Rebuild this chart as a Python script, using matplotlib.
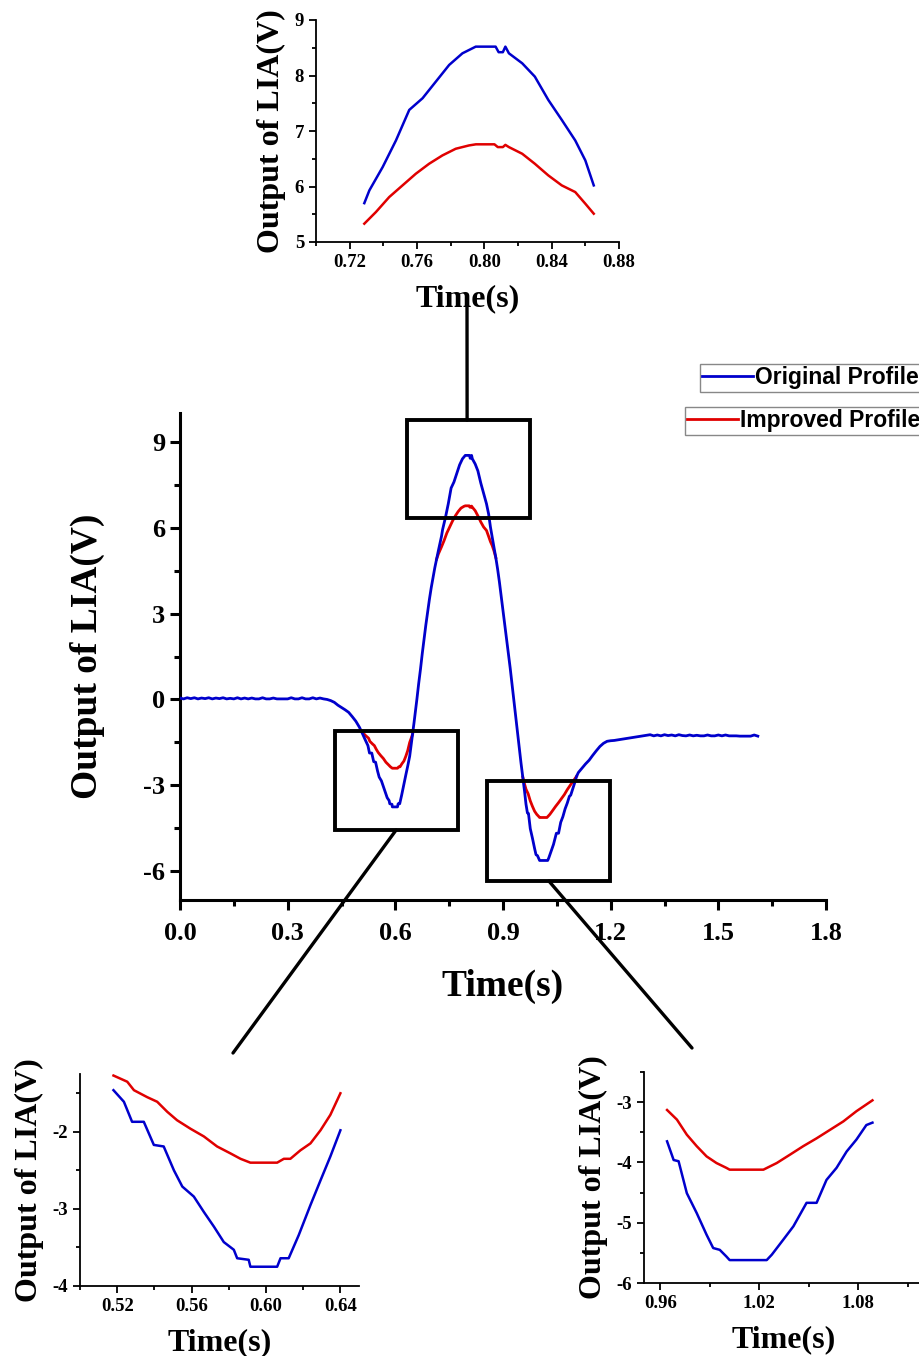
import numpy as np
import matplotlib
matplotlib.use("Agg")
import matplotlib.pyplot as plt
from matplotlib.patches import Rectangle, ConnectionPatch
from matplotlib.ticker import MultipleLocator
from matplotlib.font_manager import FontProperties

# ---------------- data ----------------
orig_t = [0.00, 0.01, 0.02, 0.03, 0.04, 0.05, 0.06, 0.07, 0.08, 0.09, 0.10, 0.11, 0.12, 0.13,
          0.14, 0.15, 0.16, 0.17, 0.18, 0.19, 0.20, 0.21, 0.22, 0.23, 0.24, 0.25, 0.26, 0.27,
          0.28, 0.29, 0.30, 0.31, 0.32, 0.33, 0.34, 0.35, 0.36, 0.37, 0.38, 0.39, 0.40,
          0.41, 0.42, 0.43, 0.44, 0.45, 0.46, 0.47, 0.48, 0.49, 0.50, 0.505, 0.510,
          0.518, 0.5236, 0.528, 0.5343, 0.5397, 0.545, 0.5505, 0.555, 0.5612, 0.5666, 0.572,
          0.5773, 0.5827, 0.5845, 0.5907, 0.5916, 0.606, 0.6078, 0.6122, 0.6176, 0.6239,
          0.6293, 0.6346, 0.640, 0.644, 0.648, 0.652, 0.656, 0.660, 0.665, 0.670, 0.675,
          0.680, 0.685, 0.690, 0.695, 0.700, 0.705, 0.710, 0.715, 0.720,
          0.7287, 0.7317, 0.7396, 0.7475, 0.7554, 0.7633, 0.7712, 0.7791, 0.787, 0.7949,
          0.8067, 0.8085, 0.811, 0.8125, 0.8146, 0.8225, 0.830, 0.838, 0.846, 0.854, 0.860,
          0.865, 0.870, 0.875, 0.880, 0.885, 0.890, 0.895, 0.900, 0.905, 0.910, 0.915, 0.920,
          0.925, 0.930, 0.935, 0.940, 0.945, 0.950, 0.955, 0.960,
          0.964, 0.968, 0.971, 0.976, 0.982, 0.988, 0.992, 0.996, 1.000, 1.002, 1.0245,
          1.0276, 1.0346, 1.0407, 1.0487, 1.0548, 1.0608, 1.0669, 1.073, 1.079, 1.085, 1.0887,
          1.095, 1.100, 1.105, 1.110, 1.120, 1.130, 1.140, 1.150, 1.160, 1.170, 1.180, 1.190,
          1.200, 1.210, 1.220, 1.230, 1.240, 1.250, 1.260, 1.270, 1.280, 1.290, 1.300,
          1.31, 1.32, 1.33, 1.34, 1.35, 1.36, 1.37, 1.38, 1.39, 1.40, 1.41, 1.42, 1.43, 1.44,
          1.45, 1.46, 1.47, 1.48, 1.49, 1.50, 1.51, 1.52, 1.53, 1.54, 1.55, 1.56, 1.57, 1.58,
          1.59, 1.60, 1.61]
orig_v = [0.05, 0.02, 0.06, 0.03, 0.06, 0.02, 0.05, 0.03, 0.06, 0.02, 0.05, 0.03, 0.06, 0.02,
          0.04, 0.02, 0.06, 0.02, 0.05, 0.02, 0.05, 0.02, 0.02, 0.06, 0.02, 0.02, 0.05, 0.02,
          0.02, 0.02, 0.02, 0.06, 0.02, 0.02, 0.06, 0.02, 0.02, 0.06, 0.02, 0.05, 0.02,
          0.00, -0.04, -0.10, -0.20, -0.28, -0.36, -0.45, -0.60, -0.76, -0.97, -1.10, -1.24,
          -1.46, -1.61, -1.87, -1.87, -2.17, -2.19, -2.50, -2.71, -2.84, -3.04, -3.23,
          -3.43, -3.53, -3.64, -3.66, -3.75, -3.75, -3.64, -3.64, -3.34, -2.95,
          -2.63, -2.32, -1.98, -1.60, -1.22, -0.82, -0.42, 0.00, 0.55, 1.05, 1.60,
          2.10, 2.60, 3.05, 3.50, 3.90, 4.25, 4.60, 4.90, 5.20,
          5.70, 5.93, 6.35, 6.83, 7.38, 7.59, 7.89, 8.19, 8.40, 8.52,
          8.52, 8.42, 8.42, 8.52, 8.40, 8.22, 7.98, 7.56, 7.20, 6.83, 6.47,
          6.02, 5.65, 5.30, 4.95, 4.55, 4.10, 3.60, 3.10, 2.60, 2.10, 1.60, 1.10,
          0.55, 0.00, -0.55, -1.10, -1.65, -2.20, -2.70, -3.20,
          -3.65, -3.96, -3.98, -4.51, -4.84, -5.20, -5.42, -5.45, -5.56, -5.62, -5.62,
          -5.53, -5.28, -5.06, -4.67, -4.67, -4.29, -4.09, -3.82, -3.62, -3.38, -3.34,
          -3.10, -2.90, -2.68, -2.55, -2.40, -2.25, -2.12, -1.95, -1.79, -1.64, -1.53, -1.46,
          -1.44, -1.43, -1.41, -1.39, -1.37, -1.35, -1.33, -1.31, -1.29, -1.27, -1.25,
          -1.23, -1.27, -1.24, -1.27, -1.23, -1.26, -1.24, -1.27, -1.23, -1.26, -1.27, -1.24,
          -1.27, -1.25, -1.27, -1.27, -1.24, -1.27, -1.27, -1.24, -1.27, -1.24, -1.27, -1.27,
          -1.27, -1.28, -1.28, -1.28, -1.28, -1.24, -1.28]

# improved profile: differs from the original only around the three extrema
impr_t = [0.505, 0.510, 0.518, 0.5254, 0.529, 0.5361, 0.5415, 0.5469, 0.5522, 0.5594, 0.5666,
          0.5737, 0.5809, 0.5863, 0.5916, 0.606, 0.6096, 0.6131, 0.6185, 0.6239, 0.6293,
          0.6346, 0.640, 0.644, 0.648,
          np.nan,
          0.715, 0.720, 0.7287, 0.7356, 0.7435, 0.7514, 0.7593, 0.7672, 0.7751, 0.783, 0.7909,
          0.795, 0.806, 0.808, 0.811, 0.8125, 0.8146, 0.8225, 0.830, 0.838, 0.846, 0.854,
          0.860, 0.865, 0.870, 0.875, 0.880,
          np.nan,
          0.955, 0.960, 0.964, 0.970, 0.976, 0.982, 0.988, 0.994, 1.000, 1.002, 1.0225,
          1.0306, 1.0387, 1.0467, 1.0548, 1.0629, 1.071, 1.079, 1.0887, 1.095, 1.100, 1.105]
impr_v = [-1.10, -1.17, -1.27, -1.35, -1.46, -1.55, -1.61, -1.74, -1.85, -1.96, -2.06,
          -2.19, -2.28, -2.35, -2.40, -2.40, -2.35, -2.35, -2.24, -2.15, -1.98,
          -1.78, -1.50, -1.36, -1.22,
          np.nan,
          4.90, 5.08, 5.33, 5.54, 5.81, 6.02, 6.23, 6.41, 6.56, 6.68, 6.74,
          6.76, 6.76, 6.71, 6.71, 6.75, 6.71, 6.59, 6.41, 6.20, 6.02, 5.90,
          5.69, 5.51, 5.37, 5.18, 4.95,
          np.nan,
          -2.70, -2.95, -3.13, -3.29, -3.54, -3.73, -3.90, -4.01, -4.09, -4.12, -4.12,
          -4.01, -3.87, -3.73, -3.60, -3.46, -3.32, -3.15, -2.97, -2.86, -2.77, -2.68]

series_labels = ["Original Profile", "Improved Profile"]
series_colors = ["#0000cc", "#e00000"]

# zoom windows (time range of exported inset data, and the boxes drawn on the main plot)
win_top = (0.7287, 0.865)
win_left = (0.518, 0.640)
win_right = (0.962, 1.0887)
box_top = (0.633, 0.975, 6.34, 9.75)
box_left = (0.432, 0.774, -4.56, -1.11)
box_right = (0.855, 1.198, -6.34, -2.84)

ot = np.array(orig_t, dtype=float)
ov = np.array(orig_v, dtype=float)
it = np.array(impr_t, dtype=float)
iv = np.array(impr_v, dtype=float)

# ---------------- figure ----------------
W, H = 919, 1356
fig = plt.figure(figsize=(W / 100, H / 100), dpi=100)
SERIF = ["Liberation Serif", "DejaVu Serif"]


def fx(px):
    return px / W


def fy(py):
    return 1 - py / H


def style_axes(ax, tick_size, spine_w, maj_len, min_len):
    for s in ("top", "right"):
        ax.spines[s].set_visible(False)
    for s in ("left", "bottom"):
        ax.spines[s].set_linewidth(spine_w)
    ax.tick_params(which="major", direction="out", length=maj_len, width=spine_w,
                   labelsize=tick_size)
    ax.tick_params(which="minor", direction="out", length=min_len, width=spine_w)
    for lab in ax.get_xticklabels() + ax.get_yticklabels():
        lab.set_fontfamily(SERIF)
        lab.set_fontweight("bold")


# main axes
ax = fig.add_axes([fx(180), fy(900), fx(826) - fx(180), fy(413) - fy(900)])
l_imp, = ax.plot(it, iv, color=series_colors[1], lw=2.0, zorder=2)
l_org, = ax.plot(ot, ov, color=series_colors[0], lw=2.0, zorder=3)
ax.set_xlim(0, 1.8)
ax.set_ylim(-7, 10)
ax.xaxis.set_minor_locator(MultipleLocator(0.15))
ax.yaxis.set_minor_locator(MultipleLocator(1.5))
ax.set_xticks([0.0, 0.3, 0.6, 0.9, 1.2, 1.5, 1.8])
ax.set_xticklabels(["0.0", "0.3", "0.6", "0.9", "1.2", "1.5", "1.8"])
ax.set_yticks([-6, -3, 0, 3, 6, 9])
ax.set_yticklabels(["-6", "-3", "0", "3", "6", "9"])
style_axes(ax, 19, 2.2, 7, 4)
ax.tick_params(axis="x", pad=9)
ax.set_xlabel("Time(s)", fontsize=27, fontweight="bold", family=SERIF, labelpad=17)
ax.set_ylabel("Output of LIA(V)", fontsize=27, fontweight="bold", family=SERIF, labelpad=28)

for (x0, x1, y0, y1) in (box_top, box_left, box_right):
    ax.add_patch(Rectangle((x0, y0), x1 - x0, y1 - y0, fill=False, ec="black",
                           lw=2.8, zorder=5))


def inset(rect, win, xlim, ylim, xmin, ymin, yticks, xticks):
    a = fig.add_axes(rect)
    m1 = (ot >= win[0]) & (ot <= win[1])
    m2 = (it >= win[0]) & (it <= win[1])
    a.plot(it[m2], iv[m2], color=series_colors[1], lw=1.8)
    a.plot(ot[m1], ov[m1], color=series_colors[0], lw=1.8)
    a.set_xlim(*xlim)
    a.set_ylim(*ylim)
    a.xaxis.set_minor_locator(MultipleLocator(xmin))
    a.yaxis.set_minor_locator(MultipleLocator(ymin))
    a.set_xticks(xticks)
    a.set_xticklabels(["%.2f" % v for v in xticks])
    a.set_yticks(yticks)
    a.set_yticklabels(["%d" % v for v in yticks])
    style_axes(a, 13.5, 1.3, 5, 3)
    a.set_xlabel("Time(s)", fontsize=23, fontweight="bold", family=SERIF, labelpad=10)
    a.set_ylabel("Output of LIA(V)", fontsize=23, fontweight="bold", family=SERIF,
                 labelpad=6)
    return a


a_top = inset([fx(316), fy(242), fx(619) - fx(316), fy(20) - fy(242)], win_top,
              (0.70, 0.88), (5, 9), 0.02, 0.5, [5, 6, 7, 8, 9],
              [0.72, 0.76, 0.80, 0.84, 0.88])
a_left = inset([fx(80), fy(1286), fx(359) - fx(80), fy(1074) - fy(1286)], win_left,
               (0.50, 0.65), (-4, -1.25), 0.02, 0.5, [-4, -3, -2],
               [0.52, 0.56, 0.60, 0.64])
a_right = inset([fx(644), fy(1283), fx(924) - fx(644), fy(1072) - fy(1283)], win_right,
                (0.95, 1.12), (-6, -2.5), 0.03, 0.5, [-6, -5, -4, -3],
                [0.96, 1.02, 1.08])

# connectors from boxes to insets
for xyA, xyB in (((0.80, box_top[3]), (fx(467), fy(300))),
                 ((0.602, box_left[2]), (fx(233), fy(1053))),
                 ((1.028, box_right[2]), (fx(692), fy(1048)))):
    cp = ConnectionPatch(xyA=xyA, coordsA=ax.transData, xyB=xyB,
                         coordsB=fig.transFigure, color="black", lw=2.4)
    fig.add_artist(cp)

# legends (two separate boxes)
lp = FontProperties(family=["Liberation Sans", "DejaVu Sans"], weight="bold", size=16.5)
for h, lab, (px, py) in ((l_org, series_labels[0], (700, 364)),
                         (l_imp, series_labels[1], (685, 407))):
    lg = fig.legend([h], [lab], loc="upper left", bbox_to_anchor=(fx(px), fy(py)),
                    bbox_transform=fig.transFigure, prop=lp, frameon=True, fancybox=False,
                    edgecolor="#888888", framealpha=1, borderpad=0.1, handlelength=2.2,
                    handletextpad=0.1, borderaxespad=0)
    lg.get_frame().set_linewidth(1.0)

fig.savefig("out.png", dpi=100)
